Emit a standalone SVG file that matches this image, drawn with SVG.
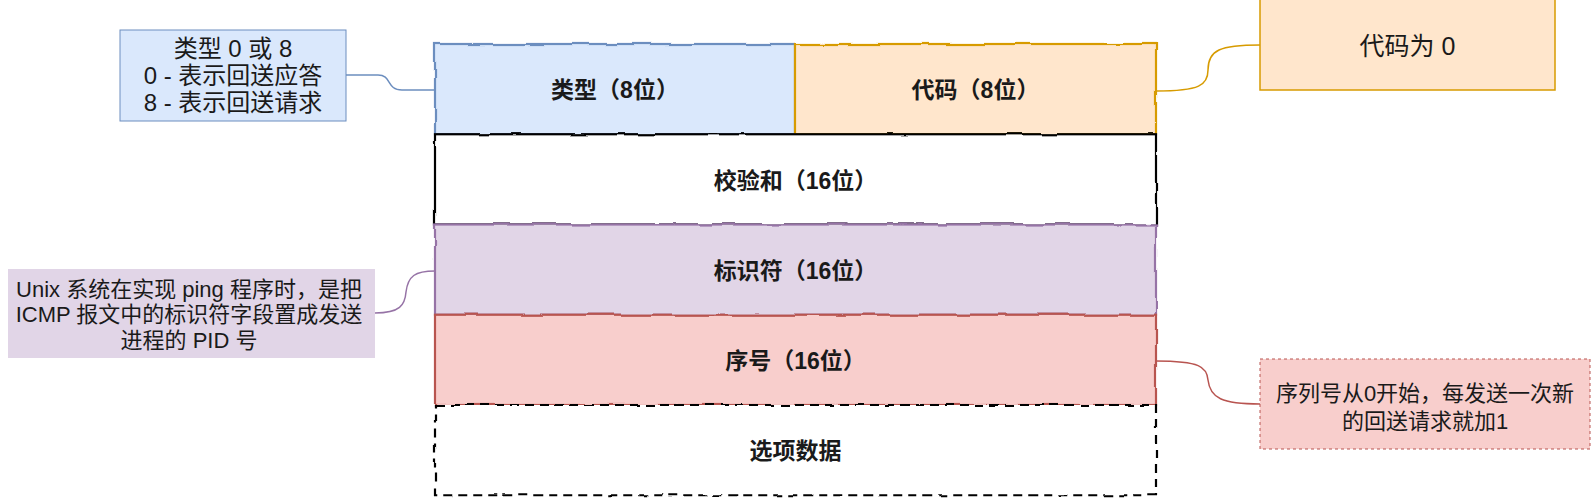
<svg xmlns="http://www.w3.org/2000/svg" width="1592" height="498" viewBox="0 0 1592 498">
<style>
text{font-family:"Liberation Sans","Noto Sans CJK SC",sans-serif;fill:#1a1a1a;text-anchor:middle;dominant-baseline:central}
.lbl{font-weight:bold;font-size:23px}
.n24{font-size:24px}
.n25{font-size:25px}
.n22{font-size:22px}
.con{fill:none;stroke-width:1.5}
.edge{fill:none;stroke-width:2.2;filter:url(#rough)}
</style>
<defs>
<filter id="rough" filterUnits="userSpaceOnUse" x="400" y="20" width="800" height="478">
<feTurbulence type="fractalNoise" baseFrequency="0.03" numOctaves="2" seed="3" result="n"/>
<feDisplacementMap in="SourceGraphic" in2="n" scale="4" xChannelSelector="R" yChannelSelector="G"/>
</filter>
</defs>
<rect width="1592" height="498" fill="#ffffff"/>
<g id="connectors">
<path class="con" stroke="#6c8ebf" d="M346,75 L378,75 C392,75 386,90 402,90 L435,90"/>
<path class="con" stroke="#d79b00" d="M1156,91 C1200,91 1208,85 1208,70 C1208,50 1220,45 1260,45"/>
<path class="con" stroke="#9673a6" d="M375,313 C400,313 405,305 406,292 C408,276 415,271 435,271"/>
<path class="con" stroke="#b85450" d="M1156,361 C1200,361 1207,367 1208,380 C1210,398 1222,404 1260,404"/>
</g>
<g id="type">
<rect x="435" y="44" width="360" height="90.25" fill="#dae8fc"/>
<rect class="edge" x="435" y="44" width="360" height="90.25" stroke="#6c8ebf"/>
<text class="lbl" x="615" y="90">类型（8位）</text>
</g>
<g id="code">
<rect x="795" y="44" width="361" height="90.25" fill="#ffe6cc"/>
<rect class="edge" x="795" y="44" width="361" height="90.25" stroke="#d79b00"/>
<text class="lbl" x="975.5" y="90">代码（8位）</text>
</g>
<g id="checksum">
<rect x="435" y="134.25" width="721" height="90.25" fill="#ffffff"/>
<rect class="edge" x="435" y="134.25" width="721" height="90.25" stroke="#000000"/>
<text class="lbl" x="795.5" y="181">校验和（16位）</text>
</g>
<g id="identifier">
<rect x="435" y="224.5" width="721" height="90.25" fill="#e1d5e7"/>
<rect class="edge" x="435" y="224.5" width="721" height="90.25" stroke="#9673a6"/>
<text class="lbl" x="795.5" y="271">标识符（16位）</text>
</g>
<g id="sequence">
<rect x="435" y="314.75" width="721" height="90.25" fill="#f8cecc"/>
<rect class="edge" x="435" y="314.75" width="721" height="90.25" stroke="#b85450"/>
<text class="lbl" x="795.5" y="361">序号（16位）</text>
</g>
<g id="options">
<rect x="435" y="405" width="721" height="90.25" fill="#ffffff"/>
<rect class="edge" x="435" y="405" width="721" height="90.25" stroke="#000000" stroke-width="2.6" stroke-dasharray="9 6"/>
<text class="lbl" x="795.5" y="451">选项数据</text>
</g>
<g id="note-type">
<rect x="120" y="30" width="226" height="91" fill="#dae8fc" stroke="#6c8ebf" stroke-width="1"/>
<text class="n24" x="233" y="48.3">类型 0 或 8</text>
<text class="n24" x="233" y="75.5">0 - 表示回送应答</text>
<text class="n24" x="233" y="102.5">8 - 表示回送请求</text>
</g>
<g id="note-code">
<rect x="1260" y="-1" width="295" height="91" fill="#ffe6cc" stroke="#d79b00" stroke-width="1.5"/>
<text class="n25" x="1407.5" y="46">代码为 0</text>
</g>
<g id="note-identifier">
<rect x="8" y="269" width="367" height="89" fill="#e1d5e7"/>
<text class="n22" x="189" y="289">Unix 系统在实现 ping 程序时，是把</text>
<text class="n22" x="189" y="314.5">ICMP 报文中的标识符字段置成发送</text>
<text class="n22" x="189" y="340">进程的 PID 号</text>
</g>
<g id="note-sequence">
<rect x="1260" y="359" width="330" height="90" fill="#f8cecc" stroke="#b85450" stroke-width="1" stroke-dasharray="3 3"/>
<text class="n22" x="1425" y="393.3">序列号从0开始，每发送一次新</text>
<text class="n22" x="1425" y="421.7">的回送请求就加1</text>
</g>
</svg>
